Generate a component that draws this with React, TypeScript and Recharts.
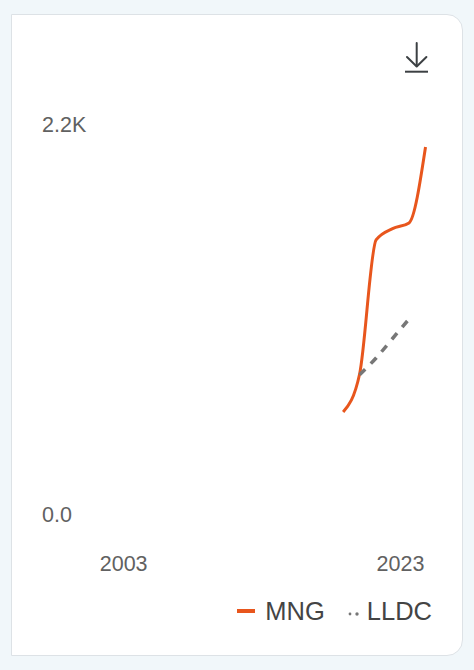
import { LineChart, Line, XAxis, YAxis } from 'recharts'

const YEARS = [2019, 2020, 2021, 2022, 2023, 2024]
const MNG = [575, 790, 1546, 1610, 1642, 2070]
const LLDC = [null, 785, 880, 990, 1100, null]
const Y_TICKS = [0, 2200]
const X_LABEL_TICKS = [2003, 2023]

const SERIES = [
  { key: 'MNG', color: '#e8561d', dash: undefined as string | undefined, width: 3 },
  { key: 'LLDC', color: '#777777', dash: '8 8', width: 3.5 },
]

const data = YEARS.map((year, i) => ({ year, MNG: MNG[i], LLDC: LLDC[i] }))

const FONT = '"Liberation Sans", Arial, sans-serif'

function formatValue(v: number) {
  return v === 0 ? '0.0' : `${(v / 1000).toFixed(1)}K`
}

function YTick({ y, payload }: { y?: number; payload?: { value: number } }) {
  return (
    <text x={42} y={y} dy="0.36em" textAnchor="start" fontSize={21.5} fontFamily={FONT} fill="#616161">
      {formatValue(payload?.value ?? 0)}
    </text>
  )
}

function XTick({ x, y, payload }: { x?: number; y?: number; payload?: { value: number } }) {
  return (
    <text x={x} y={y} dy="0.36em" textAnchor="middle" fontSize={21.5} fontFamily={FONT} fill="#616161">
      {payload?.value}
    </text>
  )
}

function Legend() {
  return (
    <div
      style={{
        position: 'absolute',
        right: 42,
        top: 596,
        height: 30,
        display: 'flex',
        alignItems: 'center',
        fontFamily: FONT,
        fontSize: 25.5,
        color: '#444444',
      }}
    >
      {SERIES.map((s, i) => (
        <div key={s.key} style={{ display: 'flex', alignItems: 'center', marginLeft: i === 0 ? 0 : 23 }}>
          {s.dash ? (
            <svg width={12} height={6} style={{ marginRight: 7, marginTop: 5 }}>
              <circle cx={2} cy={3} r={1.4} fill={s.color} />
              <circle cx={9} cy={3} r={1.7} fill={s.color} />
            </svg>
          ) : (
            <span style={{ width: 18, height: 4, background: s.color, marginRight: 10 }} />
          )}
          <span>{s.key}</span>
        </div>
      ))}
    </div>
  )
}

function DownloadIcon() {
  return (
    <svg width={474} height={100} style={{ position: 'absolute', left: 0, top: 0 }}>
      <g stroke="#3c4043" strokeWidth={2} fill="none" strokeLinecap="round">
        <line x1={416.7} y1={43} x2={416.7} y2={66} />
        <polyline points="407,57 416.7,66.5 426.4,57" strokeLinejoin="round" />
        <line x1={405} y1={71.7} x2={428} y2={71.7} strokeLinecap="butt" />
      </g>
    </svg>
  )
}

export default function App() {
  return (
    <div
      style={{
        position: 'fixed',
        left: 0,
        top: 0,
        width: 474,
        height: 670,
        background: '#f1f7fa',
        overflow: 'hidden',
      }}
    >
      <div
        style={{
          position: 'absolute',
          left: 11,
          top: 14,
          width: 450,
          height: 640,
          background: '#ffffff',
          border: '1px solid #dde2e6',
          borderRadius: '0 16px 16px 0',
        }}
      />
      <DownloadIcon />
      <div style={{ position: 'absolute', left: 0, top: 0 }}>
        <LineChart width={474} height={670} data={data} margin={{ top: 124, right: 32, left: 46, bottom: 126 }}>
          <XAxis
            xAxisId="labels"
            dataKey="year"
            type="number"
            domain={[2001, 2026]}
            allowDataOverflow
            ticks={X_LABEL_TICKS}
            interval={0}
            tick={<XTick />}
            axisLine={false}
            tickLine={false}
            tickSize={0}
            tickMargin={49}
            height={30}
          />
          <XAxis
            xAxisId="data"
            dataKey="year"
            type="number"
            domain={[2004, 2025]}
            allowDataOverflow
            hide
            height={0}
          />
          <YAxis
            domain={[0, 2200]}
            ticks={Y_TICKS}
            tick={<YTick />}
            axisLine={false}
            tickLine={false}
            width={50}
          />
          {SERIES.map((s) => (
            <Line
              key={s.key}
              xAxisId="data"
              dataKey={s.key}
              type="monotone"
              stroke={s.color}
              strokeWidth={s.width}
              strokeDasharray={s.dash}
              dot={false}
              activeDot={false}
              connectNulls={false}
              isAnimationActive={false}
            />
          ))}
        </LineChart>
      </div>
      <Legend />
    </div>
  )
}
